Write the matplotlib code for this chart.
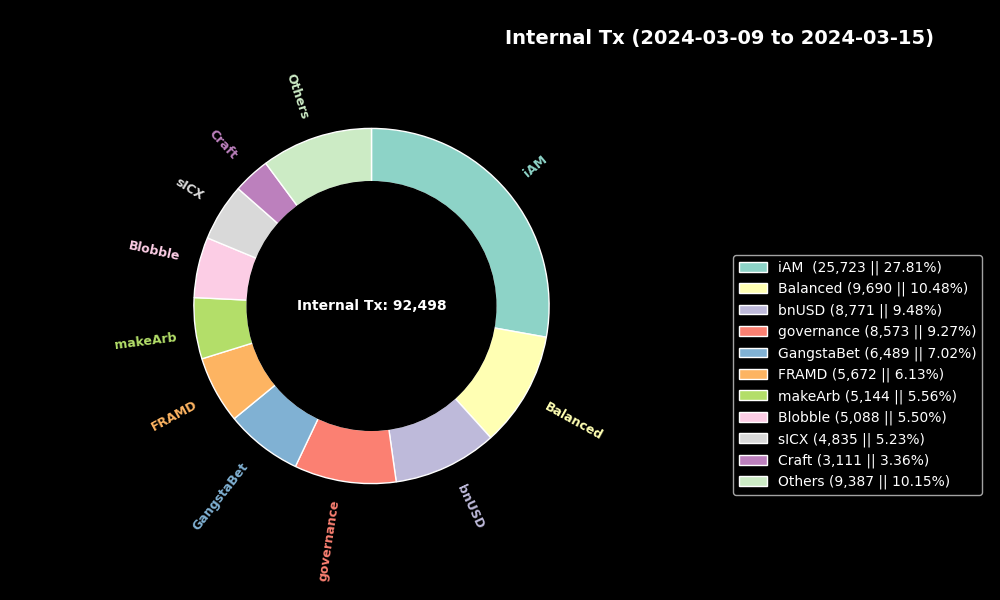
import matplotlib.pyplot as plt

names = ['iAM ', 'Balanced', 'bnUSD', 'governance', 'GangstaBet', 'FRAMD',
         'makeArb', 'Blobble', 'sICX', 'Craft', 'Others']
counts = [25723, 9690, 8771, 8573, 6489, 5672, 5144, 5088, 4835, 3111, 9387]
shares = [27.81, 10.48, 9.48, 9.27, 7.02, 6.13, 5.56, 5.50, 5.23, 3.36, 10.15]
total = 92498

plt.style.use('dark_background')
colors = plt.get_cmap('Set3').colors

fig, ax = plt.subplots(figsize=(10, 6))
wedges, texts = ax.pie(counts, labels=names, colors=colors, startangle=90,
                       counterclock=False, radius=1.0, labeldistance=1.1,
                       rotatelabels=True,
                       wedgeprops=dict(width=0.3, edgecolor='white'),
                       textprops=dict(fontsize=9, fontweight='bold'))
for t, c in zip(texts, colors):
    t.set_color(c)

# centre hole drawn on top, black circle as in the original
ax.add_artist(plt.Circle((0, 0), 0.7, fc='black', ec='black'))

ax.text(0, 0, f'Internal Tx: {total:,}', ha='center', va='center',
        color='white', fontsize=10, fontweight='bold')

legend_labels = [f'{n} ({c:,} || {s:.2f}%)' for n, c, s in zip(names, counts, shares)]
ax.legend(wedges, legend_labels, loc='center left', bbox_to_anchor=(0.7265, 0.375),
          bbox_transform=fig.transFigure, fontsize=10)

fig.text(0.7195, 0.936, 'Internal Tx (2024-03-09 to 2024-03-15)', ha='center', va='center',
         color='white', fontsize=14, fontweight='bold')

ax.set_position([0.125, 0.12, 0.493, 0.74])
fig.savefig('out.png', dpi=100)
